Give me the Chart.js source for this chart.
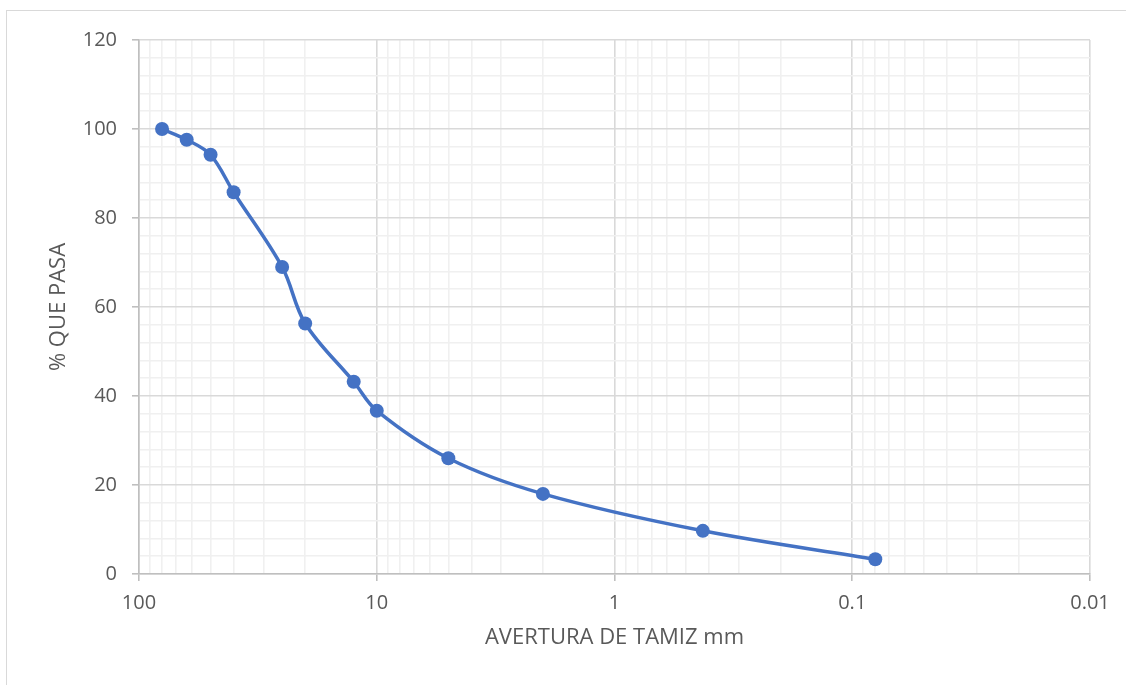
<!DOCTYPE html>
<html>
<head>
<meta charset="utf-8">
<script src="https://cdn.jsdelivr.net/npm/chart.js@4"></script>
<style>
  body { margin: 0; background: #fff; }
  #wrap { position: relative; width: 1126px; height: 685px; overflow: hidden; }
  #frame { position: absolute; left: 6px; top: 10px; width: 1140px; height: 700px; border: 1px solid #d9d9d9; }
  #chartCanvas { position: absolute; left: 0; top: 0; }
</style>
</head>
<body>
<div id="wrap">
  <div id="frame"></div>
  <canvas id="chartCanvas" width="1126" height="685"></canvas>
</div>
<script>
// abertura de tamiz (mm) y % que pasa
const sieveSizes = [80, 63, 50, 40, 25, 20, 12.5, 10, 5, 2, 0.425, 0.08];
const percentPassing = [100, 97.6, 94.2, 85.8, 69.0, 56.3, 43.2, 36.7, 26.0, 18.0, 9.7, 3.3];

const xDecades = [100, 10, 1, 0.1, 0.01];
const xTickLabels = ['100', '10', '1', '0.1', '0.01'];
const yTickLabels = ['0', '20', '40', '60', '80', '100', '120'];

const textColor = '#595959';
const majorGrid = '#d9d9d9';
const minorGrid = '#f0f0f0';
const axisColor = '#bfbfbf';
const lineColor = '#4472c4';
const fontFamily = '"Open Sans", "Liberation Sans", sans-serif';

function isDecade(v) {
  const l = Math.log10(v);
  return Math.abs(l - Math.round(l)) < 1e-9;
}

// lineas de cuadricula: 1..9 por cada decada
const xGridValues = [];
for (let e = -2; e < 2; e++) {
  for (let m = 1; m < 10; m++) {
    xGridValues.push(parseFloat((m * Math.pow(10, e)).toPrecision(6)));
  }
}
xGridValues.push(100);

const points = sieveSizes.map((s, i) => ({ x: s, y: percentPassing[i] }));

const ctx = document.getElementById('chartCanvas').getContext('2d');
const chart = new Chart(ctx, {
  type: 'line',
  data: {
    datasets: [{
      data: points,
      borderColor: lineColor,
      backgroundColor: lineColor,
      borderWidth: 3.5,
      pointRadius: 7,
      pointBorderWidth: 0,
      pointBackgroundColor: lineColor,
      tension: 0.35,
      fill: false
    }]
  },
  options: {
    responsive: false,
    animation: false,
    layout: { padding: { left: 42, top: 40, right: 36, bottom: 30 } },
    plugins: {
      legend: { display: false },
      tooltip: { enabled: false }
    },
    scales: {
      x: {
        type: 'logarithmic',
        reverse: true,
        min: 0.01,
        max: 100,
        afterBuildTicks: scale => {
          scale.ticks = xGridValues.map(v => ({ value: v }));
        },
        afterFit: scale => { scale.height = 81; },
        ticks: {
          autoSkip: false,
          maxRotation: 0,
          padding: 10,
          color: textColor,
          font: { family: fontFamily, size: 20 },
          callback: function(value) {
            if (!isDecade(value)) return '';
            const idx = xDecades.findIndex(d => Math.abs(d - value) / d < 1e-6);
            return idx >= 0 ? xTickLabels[idx] : '';
          }
        },
        grid: {
          color: c => (c.tick && isDecade(c.tick.value)) ? majorGrid : minorGrid,
          tickColor: c => (c.tick && isDecade(c.tick.value)) ? axisColor : 'rgba(0,0,0,0)',
          tickLength: 7,
          lineWidth: 1.6
        },
        border: { color: axisColor, width: 1.6 },
        title: {
          display: true,
          text: 'AVERTURA DE TAMIZ mm',
          color: textColor,
          font: { family: fontFamily, size: 22, weight: 'normal' }
        }
      },
      y: {
        min: 0,
        max: 120,
        afterFit: scale => { scale.width = 97; },
        ticks: {
          stepSize: 4,
          autoSkip: false,
          padding: 15,
          color: textColor,
          font: { family: fontFamily, size: 20 },
          callback: value => (value % 20 === 0) ? yTickLabels[value / 20] : ''
        },
        grid: {
          color: c => (c.tick && c.tick.value % 20 === 0) ? majorGrid : minorGrid,
          tickColor: c => (c.tick && c.tick.value % 20 === 0) ? axisColor : 'rgba(0,0,0,0)',
          tickLength: 7,
          lineWidth: 1.6
        },
        border: { color: axisColor, width: 1.6 },
        title: {
          display: true,
          text: '% QUE PASA',
          color: textColor,
          font: { family: fontFamily, size: 22, weight: 'normal' }
        }
      }
    }
  }
});
</script>
</body>
</html>
